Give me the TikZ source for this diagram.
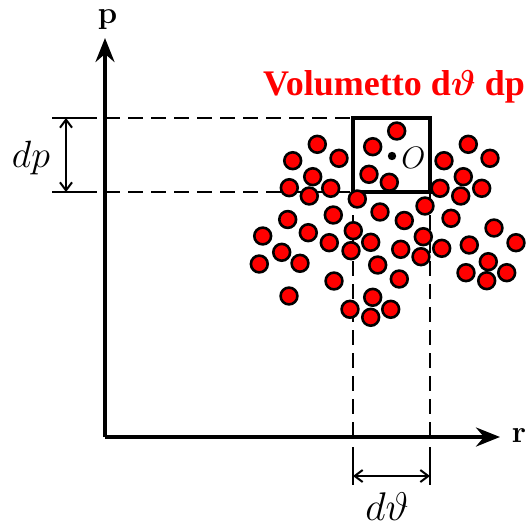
\RequirePackage{fix-cm}
\documentclass[tikz,border=0pt]{standalone}
\usepackage{fontspec}
\usepackage{bm}
\newfontfamily\titlefont{Liberation Serif}
\usetikzlibrary{arrows.meta}
\tikzset{
  axisline/.style={line width=3.8pt, -{Stealth[length=24pt,width=19pt,inset=8pt]}},
  guideline/.style={line width=2.4pt, dash pattern=on 15pt off 8pt},
  extline/.style={line width=2.4pt},
  dimarrow/.style={line width=2pt, {Straight Barb[length=8pt,width=12pt,line width=2pt]}-{Straight Barb[length=8pt,width=12pt,line width=2pt]}},
  boxline/.style={line width=3.4pt},
  particle/.style={fill=red, draw=black, line width=2.6pt},
  lbl/.style={inner sep=0pt}
}
\begin{document}
\begin{tikzpicture}[x=1pt,y=-1pt]
\useasboundingbox (0,0) rectangle (529,527);
% coordinates
\coordinate (O) at (105,437);
\coordinate (ytip) at (105,38);
\coordinate (xtip) at (500,437);
\coordinate (A) at (353,118);
\coordinate (B) at (430,192);
\coordinate (hl1) at (105,118);
\coordinate (hl2) at (105,192);
\coordinate (vl1) at (353,437);
\coordinate (vl2) at (430,437);
% guides
\draw[guideline] (hl1) -- (A);
\draw[guideline] (hl2) -- (A |- B);
\draw[guideline] (A |- B) -- (vl1);
\draw[guideline] (B) -- (vl2);
% extension lines
\coordinate (e1a) at (52,118); \coordinate (e1b) at (97,118);
\coordinate (e2a) at (52,192); \coordinate (e2b) at (97,192);
\draw[extline] (e1a) -- (e1b);
\draw[extline] (e2a) -- (e2b);
\coordinate (e3a) at (353,447); \coordinate (e3b) at (353,485);
\coordinate (e4a) at (430,447); \coordinate (e4b) at (430,485);
\draw[extline] (e3a) -- (e3b);
\draw[extline] (e4a) -- (e4b);
% dimension arrows
\coordinate (dpa) at (66,118); \coordinate (dpb) at (66,192);
\draw[dimarrow] (dpa) -- (dpb);
\coordinate (dta) at (353,476); \coordinate (dtb) at (430,476);
\draw[dimarrow] (dta) -- (dtb);
% axes
\draw[axisline] (O) -- (ytip);
\draw[axisline] (O) -- (xtip);
% box
\draw[boxline] (A) rectangle (B);
% particles
\foreach \x/\y in {
 396.7/131, 317.3/144.3, 372.7/146.7, 468.3/144.3, 292.7/160.7, 339/158.3,
 444/160.7, 490/158.3, 312.7/176.7, 369/174.3, 389.3/182.3, 463.3/176.7,
 289.3/187.7, 330.7/188.3, 309.3/196, 440/188.3, 481.7/188.3, 460.7/196,
 357.3/199, 425/206, 380/212, 404.3/220.5, 333.3/215, 287.7/219.5,
 451/218.3, 494/228,
 262.7/236, 308.3/232.7, 353.3/230.7, 423.3/236.7, 329.3/242.7, 370.7/242.3,
 351/250.7, 281.7/252.3, 400.7/249.3, 441.7/248.3, 469.3/245, 516/242.7,
 421/256.7, 259.3/264, 300/263.3, 377.7/265, 488.3/261.7, 466/272.7,
 506.7/272.7, 486.7/280.7, 334/281, 399.3/279, 289/296, 372.7/297.3,
 350/309.3, 390.7/309.3, 370.7/317.3}
  \draw[particle] (\x,\y) circle (8.4pt);
% point O
\fill (392,156) circle (4.2pt);
\node[lbl] (olabel) at (413.5,157.5) {\fontsize{31}{33}\selectfont $O$};
% labels
\node[lbl, anchor=base] (plabel) at (107.5,24) {\fontsize{31}{33}\selectfont\bfseries p};
\node[lbl, anchor=base] (rlabel) at (519,442) {\fontsize{31}{33}\selectfont\bfseries r};
\node[lbl] (dplabel) at (31,157.5) {\fontsize{38}{40}\selectfont $dp$};
\node[lbl, anchor=base] (dtlabel) at (387,520) {\fontsize{40}{42}\selectfont $d\vartheta$};
\node[lbl, anchor=base west, text=red] (title) at (263,95)
  {\titlefont\bfseries\fontsize{36}{39}\selectfont Volumetto d$\bm{\vartheta}$ dp};
\end{tikzpicture}
\end{document}
